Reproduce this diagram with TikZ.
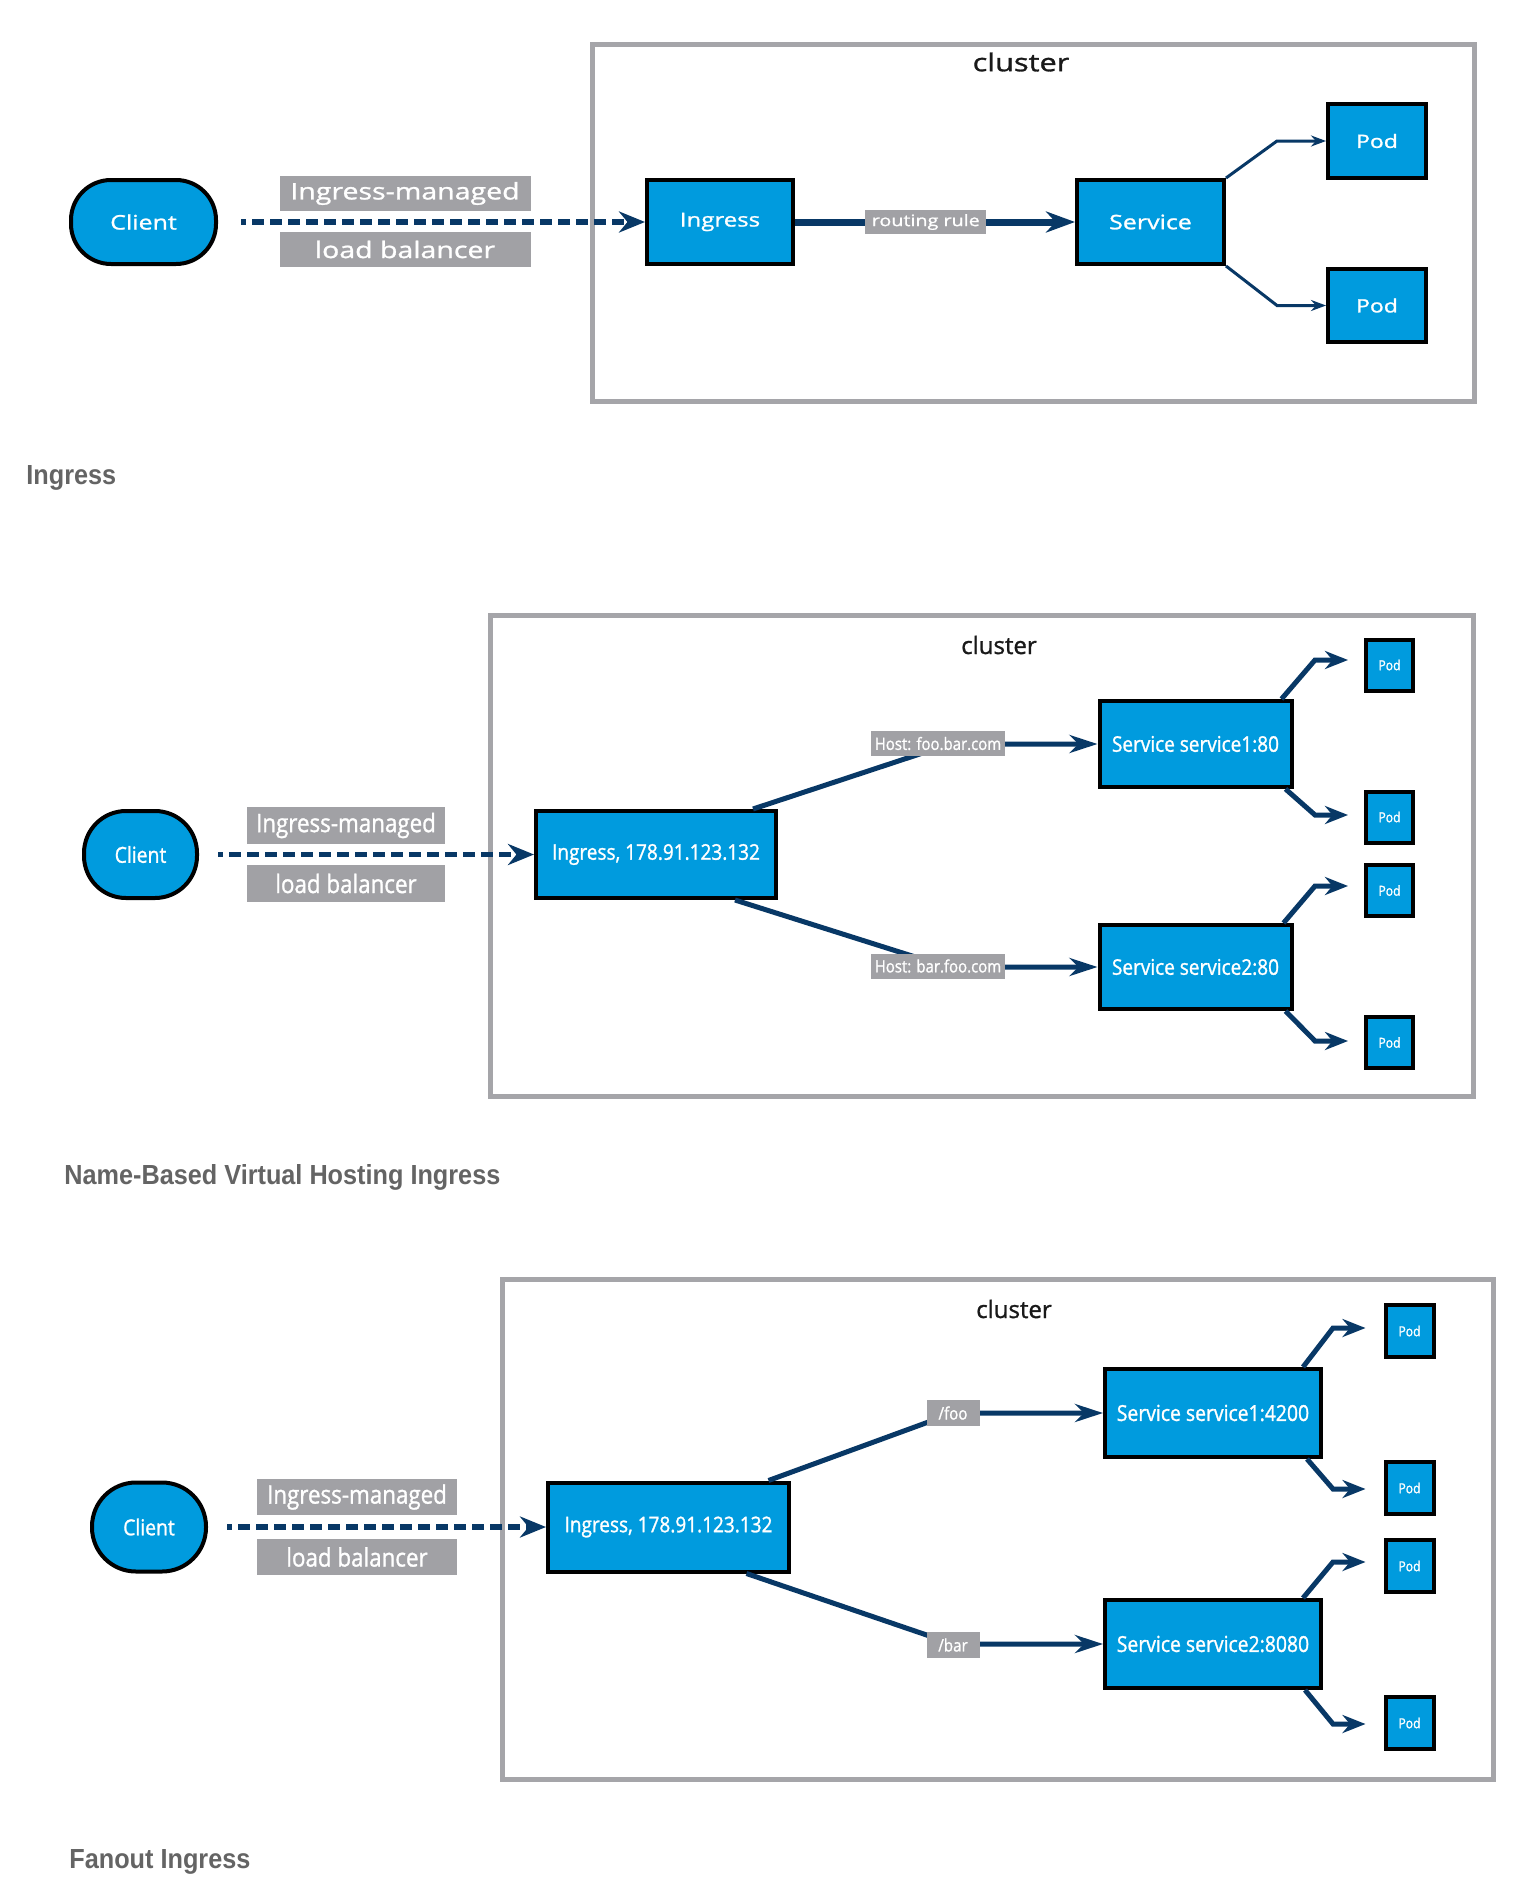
\documentclass[tikz,border=0pt]{standalone}
\usepackage{fontspec}
\setmainfont{Open Sans}
\newfontfamily\fA[FakeStretch=1.25,FakeBold=1.2]{Open Sans}
\newfontfamily\fB[FakeStretch=0.88,FakeBold=1.2]{Open Sans}
\newfontfamily\fN[FakeBold=1.2]{Open Sans}
\newfontfamily\fC[FakeStretch=0.915]{Liberation Sans Bold}
\newcommand\fsz[1]{\fontsize{#1}{#1}\selectfont}
\usetikzlibrary{arrows.meta}
\definecolor{kblue}{RGB}{0,155,222}
\definecolor{navy}{RGB}{8,56,102}
\definecolor{lgray}{RGB}{161,161,165}
\definecolor{cgray}{RGB}{165,165,169}
\definecolor{capgray}{RGB}{100,100,100}
\begin{document}
\begin{tikzpicture}[x=0.5pt,y=-0.5pt,
 box/.style={draw=black,fill=kblue,line width=2pt,text=white,inner sep=0pt},
 glbl/.style={fill=lgray,text=white,inner sep=0pt},
 clus/.style={draw=cgray,line width=2.5pt},
 conn/.style={draw=navy,line width=2.5pt},
 dconn/.style={draw=navy,line width=2.75pt,dash pattern=on 6pt off 3pt,dash phase=3.5pt},
 captxt/.style={anchor=west,text=capgray,inner sep=0pt,font={\fC\fsz{13.8pt}}},
 arrBig/.style={-{Stealth[length=14.5pt,width=10.5pt]}},
 arrDash/.style={-{Stealth[length=13pt,width=10.5pt]}},
 arrSvc/.style={-{Stealth[length=14pt,width=9pt]}},
 arrPod/.style={-{Stealth[length=11.5pt,width=9pt]}},
 arrTiny/.style={-{Stealth[length=7.5pt,width=5.5pt]}},
]
\fill[white] (0,0) rectangle (1531,1895);
\useasboundingbox (0,0) rectangle (1531,1895);

% ---------------- Diagram 1 ----------------
\draw[clus] (592,44.5) rectangle (1474,401.5);
\node[text=black!90,font={\fA\fsz{12.3pt}}] (cl1) at (1021,62) {cluster};
\node[box,rounded corners=20pt,minimum width=72.5pt,minimum height=42pt,font={\fA\fsz{10pt}}] (client1) at (143.5,222) {Client};
\node[glbl,minimum width=125.5pt,minimum height=17.5pt,font={\fA\fsz{11.4pt}}] (lb1a) at (405,193.5) {Ingress-managed};
\node[glbl,minimum width=125.5pt,minimum height=17.5pt,font={\fA\fsz{11.4pt}}] (lb1b) at (405,249.5) {load balancer};
\node[box,minimum width=73pt,minimum height=42pt,font={\fA\fsz{9.6pt}}] (ing1) at (720,222) {Ingress};
\node[box,minimum width=73.5pt,minimum height=42pt,font={\fA\fsz{10pt}}] (svc1) at (1150.5,222) {Service};
\node[box,minimum width=49pt,minimum height=37pt,font={\fA\fsz{9.2pt}}] (pod1a) at (1377,141) {Pod};
\node[box,minimum width=49pt,minimum height=36.5pt,font={\fA\fsz{9.2pt}}] (pod1b) at (1377,305.5) {Pod};
\draw[dconn,arrDash,shorten <=11.5pt] (client1.east) -- (ing1.west);
\draw[navy,line width=3.5pt,arrBig] (ing1.east) -- node[glbl,pos=0.467,minimum width=60.5pt,minimum height=12pt,font={\fA\fsz{7.9pt}}] (rr1) {routing rule} (svc1.west);
\coordinate (k1a) at (1277,141);
\coordinate (k1b) at (1277,305.5);
\draw[navy,line width=1.5pt,arrTiny] (svc1.north east) -- (k1a) -- (k1a -| pod1a.west);
\draw[navy,line width=1.5pt,arrTiny] (svc1.south east) -- (k1b) -- (k1b -| pod1b.west);
\node[captxt] (cap1) at (26,478) {Ingress};

% ---------------- Diagram 2 ----------------
\draw[clus] (490,615) rectangle (1473,1096);
\node[text=black!90,font={\fN\fsz{12pt}}] (cl2) at (999,645) {cluster};
\node[box,rounded corners=21pt,minimum width=56.5pt,minimum height=43.5pt,font={\fB\fsz{11pt}}] (client2) at (140.5,854.5) {Client};
\node[glbl,minimum width=99pt,minimum height=18.5pt,font={\fB\fsz{12.7pt}}] (lb2a) at (346,825.5) {Ingress-managed};
\node[glbl,minimum width=99pt,minimum height=18.5pt,font={\fB\fsz{12.7pt}}] (lb2b) at (346,883.5) {load balancer};
\node[box,minimum width=120pt,minimum height=43.5pt,font={\fB\fsz{10.8pt}}] (ing2) at (656,854.5) {Ingress, 178.91.123.132};
\node[box,minimum width=96pt,minimum height=43pt,font={\fB\fsz{10.8pt}}] (svc2a) at (1195.5,744) {Service service1:80};
\node[box,minimum width=96pt,minimum height=42pt,font={\fB\fsz{10.8pt}}] (svc2b) at (1195.5,967) {Service service2:80};
\node[box,minimum width=23.5pt,minimum height=25.5pt,font={\fB\fsz{6.9pt}}] (pod2a) at (1389.5,665) {Pod};
\node[box,minimum width=23.5pt,minimum height=25.5pt,font={\fB\fsz{6.9pt}}] (pod2b) at (1389.5,817) {Pod};
\node[box,minimum width=23.5pt,minimum height=25.5pt,font={\fB\fsz{6.9pt}}] (pod2c) at (1389.5,890.5) {Pod};
\node[box,minimum width=23.5pt,minimum height=25.5pt,font={\fB\fsz{6.9pt}}] (pod2d) at (1389.5,1042.5) {Pod};
\draw[dconn,arrDash,shorten <=9.5pt] (client2.east) -- (ing2.west);
\coordinate (k2a) at (950,744);
\coordinate (k2b) at (947,967);
\draw[conn,arrSvc] ([xshift=48.5pt]ing2.north) -- (k2a) -- (k2a -| svc2a.west);
\draw[conn,arrSvc] ([xshift=39.5pt]ing2.south) -- (k2b) -- (k2b -| svc2b.west);
\node[glbl,minimum width=67pt,minimum height=12.5pt,font={\fB\fsz{8.5pt}}] (h2a) at (938,743.5) {Host: foo.bar.com};
\node[glbl,minimum width=67pt,minimum height=12.5pt,font={\fB\fsz{8.5pt}}] (h2b) at (938,966) {Host: bar.foo.com};
\coordinate (p2a) at (1315,660);
\coordinate (p2b) at (1315,815);
\coordinate (p2c) at (1315,886);
\coordinate (p2d) at (1315,1041);
\draw[conn,arrPod,shorten >=8pt] ([xshift=-6pt]svc2a.north east) -- (p2a) -- (p2a -| pod2a.west);
\draw[conn,arrPod,shorten >=8pt] ([xshift=-4pt]svc2a.south east) -- (p2b) -- (p2b -| pod2b.west);
\draw[conn,arrPod,shorten >=8pt] ([xshift=-5pt]svc2b.north east) -- (p2c) -- (p2c -| pod2c.west);
\draw[conn,arrPod,shorten >=8pt] ([xshift=-4pt]svc2b.south east) -- (p2d) -- (p2d -| pod2d.west);
\node[captxt] (cap2) at (64,1177) {Name-Based Virtual Hosting Ingress};

% ---------------- Diagram 3 ----------------
\draw[clus] (502,1279) rectangle (1493,1779);
\node[text=black!90,font={\fN\fsz{12pt}}] (cl3) at (1014,1309) {cluster};
\node[box,rounded corners=22pt,minimum width=57pt,minimum height=44.5pt,font={\fB\fsz{11pt}}] (client3) at (149,1527) {Client};
\node[glbl,minimum width=100pt,minimum height=18pt,font={\fB\fsz{12.7pt}}] (lb3a) at (357,1497) {Ingress-managed};
\node[glbl,minimum width=100pt,minimum height=18pt,font={\fB\fsz{12.7pt}}] (lb3b) at (357,1557) {load balancer};
\node[box,minimum width=120.5pt,minimum height=44.5pt,font={\fB\fsz{10.8pt}}] (ing3) at (668.5,1527) {Ingress, 178.91.123.132};
\node[box,minimum width=108pt,minimum height=44pt,font={\fB\fsz{11pt}}] (svc3a) at (1213,1413) {Service service1:4200};
\node[box,minimum width=108pt,minimum height=44pt,font={\fB\fsz{11pt}}] (svc3b) at (1213,1644) {Service service2:8080};
\node[box,minimum width=24pt,minimum height=26pt,font={\fB\fsz{6.9pt}}] (pod3a) at (1409.5,1331) {Pod};
\node[box,minimum width=24pt,minimum height=26pt,font={\fB\fsz{6.9pt}}] (pod3b) at (1409.5,1488) {Pod};
\node[box,minimum width=24pt,minimum height=26pt,font={\fB\fsz{6.9pt}}] (pod3c) at (1409.5,1566) {Pod};
\node[box,minimum width=24pt,minimum height=26pt,font={\fB\fsz{6.9pt}}] (pod3d) at (1409.5,1723) {Pod};
\draw[dconn,arrDash,shorten <=9.5pt] (client3.east) -- (ing3.west);
\coordinate (k3a) at (953,1413);
\coordinate (k3b) at (953,1644);
\draw[conn,arrSvc] ([xshift=50pt]ing3.north) -- (k3a) -- (k3a -| svc3a.west);
\draw[conn,arrSvc] ([xshift=39pt]ing3.south) -- (k3b) -- (k3b -| svc3b.west);
\node[glbl,minimum width=26.5pt,minimum height=13pt,font={\fB\fsz{8.6pt}}] (f3a) at (953,1413) {/foo};
\node[glbl,minimum width=26.5pt,minimum height=13pt,font={\fB\fsz{8.6pt}}] (f3b) at (953,1645) {/bar};
\coordinate (p3a) at (1333,1328);
\coordinate (p3b) at (1333,1489);
\coordinate (p3c) at (1333,1562);
\coordinate (p3d) at (1333,1724);
\draw[conn,arrPod,shorten >=9pt] ([xshift=-10pt]svc3a.north east) -- (p3a) -- (p3a -| pod3a.west);
\draw[conn,arrPod,shorten >=9pt] ([xshift=-8pt]svc3a.south east) -- (p3b) -- (p3b -| pod3b.west);
\draw[conn,arrPod,shorten >=9pt] ([xshift=-10pt]svc3b.north east) -- (p3c) -- (p3c -| pod3c.west);
\draw[conn,arrPod,shorten >=9pt] ([xshift=-9pt]svc3b.south east) -- (p3d) -- (p3d -| pod3d.west);
\node[captxt] (cap3) at (69,1862) {Fanout Ingress};
\end{tikzpicture}
\end{document}
